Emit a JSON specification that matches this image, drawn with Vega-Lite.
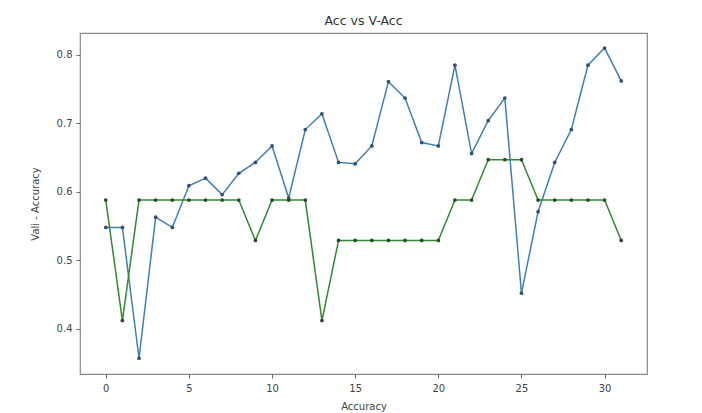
{
  "$schema": "https://vega.github.io/schema/vega-lite/v6.json",
  "autosize": "none",
  "padding": {"left": 80, "top": 33, "right": 55, "bottom": 39},
  "width": 567,
  "height": 341,
  "background": "white",
  "title": {"text": "Acc vs V-Acc", "font": "DejaVu Sans", "fontSize": 12.5, "fontWeight": "normal", "color": "#333", "offset": 6},
  "config": {
    "view": {"stroke": "#888", "strokeWidth": 1.2},
    "axis": {"labelFont": "DejaVu Sans", "titleFont": "DejaVu Sans", "labelFontSize": 10, "titleFontSize": 10, "labelColor": "#444", "titleColor": "#444", "titleFontWeight": "normal", "grid": false, "domain": false, "tickColor": "#666", "tickSize": 4}
  },
  "data": {"values": [
    {"e": 0, "acc": 0.548, "vacc": 0.588},
    {"e": 1, "acc": 0.548, "vacc": 0.412},
    {"e": 2, "acc": 0.357, "vacc": 0.588},
    {"e": 3, "acc": 0.563, "vacc": 0.588},
    {"e": 4, "acc": 0.548, "vacc": 0.588},
    {"e": 5, "acc": 0.609, "vacc": 0.588},
    {"e": 6, "acc": 0.62, "vacc": 0.588},
    {"e": 7, "acc": 0.596, "vacc": 0.588},
    {"e": 8, "acc": 0.627, "vacc": 0.588},
    {"e": 9, "acc": 0.643, "vacc": 0.529},
    {"e": 10, "acc": 0.667, "vacc": 0.588},
    {"e": 11, "acc": 0.591, "vacc": 0.588},
    {"e": 12, "acc": 0.691, "vacc": 0.588},
    {"e": 13, "acc": 0.714, "vacc": 0.412},
    {"e": 14, "acc": 0.643, "vacc": 0.529},
    {"e": 15, "acc": 0.641, "vacc": 0.529},
    {"e": 16, "acc": 0.667, "vacc": 0.529},
    {"e": 17, "acc": 0.761, "vacc": 0.529},
    {"e": 18, "acc": 0.737, "vacc": 0.529},
    {"e": 19, "acc": 0.672, "vacc": 0.529},
    {"e": 20, "acc": 0.667, "vacc": 0.529},
    {"e": 21, "acc": 0.785, "vacc": 0.588},
    {"e": 22, "acc": 0.656, "vacc": 0.588},
    {"e": 23, "acc": 0.704, "vacc": 0.647},
    {"e": 24, "acc": 0.737, "vacc": 0.647},
    {"e": 25, "acc": 0.452, "vacc": 0.647},
    {"e": 26, "acc": 0.571, "vacc": 0.588},
    {"e": 27, "acc": 0.643, "vacc": 0.588},
    {"e": 28, "acc": 0.691, "vacc": 0.588},
    {"e": 29, "acc": 0.785, "vacc": 0.588},
    {"e": 30, "acc": 0.81, "vacc": 0.588},
    {"e": 31, "acc": 0.762, "vacc": 0.529}
  ]},
  "encoding": {
    "x": {"field": "e", "type": "quantitative", "title": "Accuracy",
      "scale": {"domain": [-1.55, 32.55], "nice": false, "zero": false},
      "axis": {"values": [0, 5, 10, 15, 20, 25, 30], "titlePadding": 8, "labelPadding": 5}}
  },
  "layer": [
    {"mark": {"type": "line", "color": "#3a7fb8", "strokeWidth": 1.5},
      "encoding": {"y": {"field": "acc", "type": "quantitative", "title": "Vali - Accuracy",
        "scale": {"domain": [0.334, 0.832], "nice": false, "zero": false},
        "axis": {"values": [0.4, 0.5, 0.6, 0.7, 0.8], "format": ".1f", "titlePadding": 16, "labelPadding": 4}}}},
    {"mark": {"type": "point", "filled": true, "color": "#34506e", "size": 14, "opacity": 1},
      "encoding": {"y": {"field": "acc", "type": "quantitative"}}},
    {"mark": {"type": "line", "color": "#2e8b2e", "strokeWidth": 1.5},
      "encoding": {"y": {"field": "vacc", "type": "quantitative"}}},
    {"mark": {"type": "point", "filled": true, "color": "#2a4a2a", "size": 14, "opacity": 1},
      "encoding": {"y": {"field": "vacc", "type": "quantitative"}}}
  ]
}
